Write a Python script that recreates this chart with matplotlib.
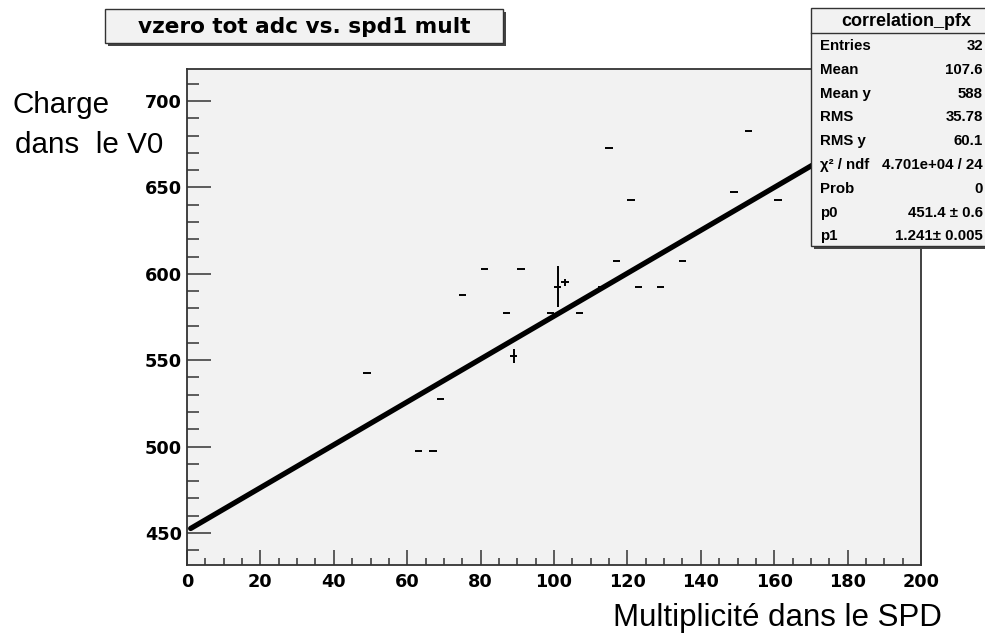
import numpy as np
import matplotlib
matplotlib.use("Agg")
import matplotlib.pyplot as plt
from matplotlib.patches import Rectangle
from matplotlib.ticker import MultipleLocator

# ---- data (profile bins) ----
bin_x = [49, 63, 67, 69, 75, 81, 87, 89, 91, 99, 101, 103, 107, 113,
         115, 117, 121, 123, 129, 135, 149, 153, 161]
mean_y = [542.5, 497.5, 497.5, 527.5, 587.5, 602.5, 577.5, 552.5, 602.5,
          577.5, 592.5, 595.0, 577.5, 592.5, 672.5, 607.5, 642.5, 592.5,
          592.5, 607.5, 647.5, 682.5, 642.5]
err_y = [0, 0, 0, 0, 0, 0, 0, 4.0, 0, 0, 11.8, 2.1, 0, 0,
         0, 0, 0, 0, 0, 0, 0, 0, 0]
bin_half_width = 1.0

fit_p0 = 451.4
fit_p1 = 1.241
fit_range = [1, 200]

x_ticks = [0, 20, 40, 60, 80, 100, 120, 140, 160, 180, 200]
y_ticks = [450, 500, 550, 600, 650, 700]

title = "vzero tot adc vs. spd1 mult"
stats_name = "correlation_pfx"
stats_labels = ["Entries", "Mean", "Mean y", "RMS", "RMS y",
                "\u03c7\u00b2 / ndf", "Prob", "p0", "p1"]
stats_values = ["32", "107.6", "588", "35.78", "60.1",
                "4.701e+04 / 24", "0", "451.4 \u00b1 0.6", "1.241\u00b1 0.005"]

W, H = 985, 635
fig = plt.figure(figsize=(W / 100, H / 100), dpi=100, facecolor="white")

def fx(px):
    return px / W

def fy(py):
    return 1 - py / H

ax_l, ax_r, ax_t, ax_b = 187, 921, 69, 565
ax = fig.add_axes([fx(ax_l), fy(ax_b), fx(ax_r - ax_l), (ax_b - ax_t) / H])
ax.set_facecolor("#f2f2f2")
ax.set_xlim(0, 200)
ax.set_ylim(431.5, 718.5)

for s in ax.spines.values():
    s.set_color("#333333")
    s.set_linewidth(1.3)

ax.set_xticks(x_ticks)
ax.set_yticks(y_ticks)
ax.xaxis.set_minor_locator(MultipleLocator(5))
ax.yaxis.set_minor_locator(MultipleLocator(10))
ax.tick_params(axis="y", which="major", direction="in", length=17, width=1.1,
               color="#333333", pad=3.6)
ax.tick_params(axis="y", which="minor", direction="in", length=8.5, width=1.1,
               color="#333333")
ax.tick_params(axis="x", which="major", direction="in", length=10.7, width=1.1,
               color="#333333", pad=5.5)
ax.tick_params(axis="x", which="minor", direction="in", length=5.4, width=1.1,
               color="#333333")
for lab in ax.get_xticklabels() + ax.get_yticklabels():
    lab.set_fontfamily("DejaVu Sans")
    lab.set_fontweight("bold")
    lab.set_fontsize(12.7)
    lab.set_color("black")

# profile points
ax.errorbar(bin_x, mean_y, xerr=bin_half_width, yerr=err_y, fmt="none",
            ecolor="black", elinewidth=1.4, capsize=0, zorder=3)

# fit line
xf = np.linspace(fit_range[0], fit_range[1], 400)
ax.plot(xf, fit_p0 + fit_p1 * xf, color="black", lw=3.8, zorder=4,
        solid_capstyle="round")

# axis labels as free text
fig.text(fx(12), fy(113), "Charge", fontfamily="Liberation Sans",
         fontsize=21.3, va="baseline", ha="left")
fig.text(fx(15), fy(153), "dans  le V0", fontfamily="Liberation Sans",
         fontsize=21.3, va="baseline", ha="left")
fig.text(fx(942), fy(626), "Multiplicit\u00e9 dans le SPD",
         fontfamily="Liberation Sans", fontsize=22.5, va="baseline", ha="right")

# title box
tx0, ty0, tx1, ty1 = 105, 9, 503, 43
fig.add_artist(Rectangle((fx(tx0 + 3), fy(ty1 + 3)), fx(tx1 - tx0), (ty1 - ty0) / H,
                         transform=fig.transFigure, facecolor="#444444",
                         edgecolor="none", zorder=5))
fig.add_artist(Rectangle((fx(tx0), fy(ty1)), fx(tx1 - tx0), (ty1 - ty0) / H,
                         transform=fig.transFigure, facecolor="#f2f2f2",
                         edgecolor="#333333", lw=1.0, zorder=6))
fig.text(fx((tx0 + tx1) / 2), fy((ty0 + ty1) / 2 + 1), title,
         fontfamily="DejaVu Sans", fontweight="bold", fontsize=15.6,
         ha="center", va="center", zorder=7)

# stats box
sx0, sy0, sx1, sy1 = 811, 8, 1010, 246
fig.add_artist(Rectangle((fx(sx0 + 3), fy(sy1 + 3)), fx(sx1 - sx0), (sy1 - sy0) / H,
                         transform=fig.transFigure, facecolor="#444444",
                         edgecolor="none", zorder=8))
fig.add_artist(Rectangle((fx(sx0), fy(sy1)), fx(sx1 - sx0), (sy1 - sy0) / H,
                         transform=fig.transFigure, facecolor="#f2f2f2",
                         edgecolor="#333333", lw=1.0, zorder=9))
fig.add_artist(plt.Line2D([fx(sx0), fx(sx1)], [fy(33), fy(33)],
                          transform=fig.transFigure, color="#333333", lw=1.0,
                          zorder=10))
fig.text(fx(906), fy(21), stats_name, fontfamily="Liberation Sans",
         fontweight="bold", fontsize=13, ha="center", va="center", zorder=11)
row0, dy = 46, 23.8
for i, (lab, val) in enumerate(zip(stats_labels, stats_values)):
    yy = fy(row0 + i * dy)
    fig.text(fx(820), yy, lab, fontfamily="Liberation Sans", fontweight="bold",
             fontsize=10.8, ha="left", va="center", zorder=11)
    fig.text(fx(983), yy, val, fontfamily="Liberation Sans", fontweight="bold",
             fontsize=10.8, ha="right", va="center", zorder=11)

fig.savefig("out.png", dpi=100, facecolor="white")
